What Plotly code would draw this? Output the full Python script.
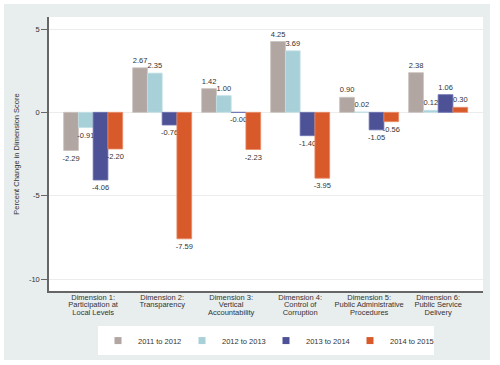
import plotly.graph_objects as go

categories = [
    "Dimension 1:<br>Participation at<br>Local Levels",
    "Dimension 2:<br>Transparency",
    "Dimension 3:<br>Vertical<br>Accountability",
    "Dimension 4:<br>Control of<br>Corruption",
    "Dimension 5:<br>Public Administrative<br>Procedures",
    "Dimension 6:<br>Public Service<br>Delivery",
]
series_names = ["2011 to 2012", "2012 to 2013", "2013 to 2014", "2014 to 2015"]
v_2011_2012 = [-2.29, 2.67, 1.42, 4.25, 0.90, 2.38]
v_2012_2013 = [-0.91, 2.35, 1.00, 3.69, 0.02, 0.12]
v_2013_2014 = [-4.06, -0.76, -0.004, -1.40, -1.05, 1.06]
v_2014_2015 = [-2.20, -7.59, -2.23, -3.95, -0.56, 0.30]
y_ticks = [5, 0, -5, -10]

colors = ["#b1a6a2", "#a8d0d8", "#4d5297", "#d85a2b"]
edge_colors = ["#c9c0bc", "#c2e0e6", "#6a6fae", "#e98a66"]

series = [v_2011_2012, v_2012_2013, v_2013_2014, v_2014_2015]
FONT = "Liberation Sans, Arial"

fig = go.Figure()
for name, vals, c, ec in zip(series_names, series, colors, edge_colors):
    fig.add_trace(go.Bar(
        x=categories, y=vals, name=name, showlegend=False,
        marker=dict(color=c, line=dict(color=ec, width=0.8)),
        text=[f"{v:.2f}" for v in vals], textposition="outside",
        constraintext="none", cliponaxis=False,
        textfont=dict(size=7.5, color="#333333", family=FONT),
    ))
# legend entries with small square swatches
for name, c in zip(series_names, colors):
    fig.add_trace(go.Scatter(
        x=[None], y=[None], mode="markers", name=name,
        marker=dict(symbol="square", size=7, color=c),
    ))

styled = ["<br>".join(f'<span style="font-size:7.5px">{ln}</span>' for ln in cat.split("<br>"))
          for cat in categories]

fig.update_layout(
    width=500, height=365,
    margin=dict(l=49, r=17, t=17, b=74, autoexpand=False),
    paper_bgcolor="white", plot_bgcolor="white",
    barmode="group", bargap=0.145, bargroupgap=0,
    font=dict(family=FONT, size=7.5, color="#333333"),
    showlegend=True,
    legend=dict(
        orientation="h", x=0.5, xanchor="center", y=-0.128, yanchor="top",
        bgcolor="white", font=dict(size=7.5, color="#333333"),
        entrywidth=39, entrywidthmode="pixels", itemwidth=30,
    ),
    shapes=[
        dict(type="rect", xref="paper", yref="paper", x0=-0.1037, x1=1.016,
             y0=-0.2518, y1=1.0474, fillcolor="#e8eded", line=dict(width=0), layer="below"),
        dict(type="rect", xref="paper", yref="paper", x0=0, x1=1, y0=0, y1=1,
             fillcolor="white", line=dict(width=0), layer="below"),
    ],
)
fig.update_xaxes(
    range=[-0.64, 5.65], tickvals=categories, ticktext=styled, tickangle=0,
    tickfont=dict(size=5.8, color="#333333"), automargin=False,
    showline=True, linecolor="#666666", linewidth=1.5,
    ticks="", showgrid=False, zeroline=False,
)
fig.update_yaxes(
    range=[-10.72, 5.72], tickvals=y_ticks, ticktext=[str(t) for t in y_ticks],
    ticks="outside", ticklen=6, tickcolor="#666666", tickwidth=1,
    showline=True, linecolor="#666666", linewidth=1.5, automargin=False,
    showgrid=True, gridcolor="#ececec", gridwidth=1, zeroline=False,
    tickfont=dict(size=7.5, color="#333333"),
    title=dict(text="Percent Change in Dimension Score", font=dict(size=7.5, color="#333333"), standoff=8),
)

fig.write_html("out.html", post_script="document.body.style.margin='0';",
               config={"displayModeBar": False})
